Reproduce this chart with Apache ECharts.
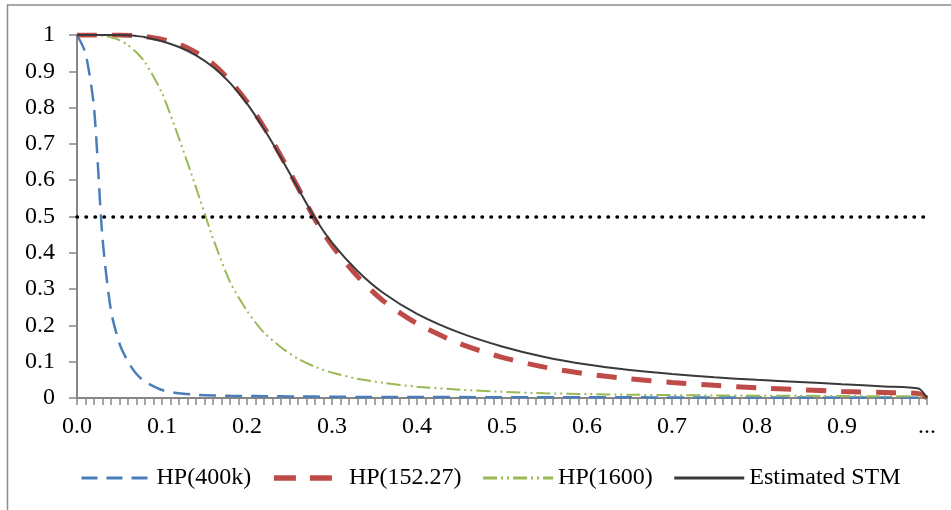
<!DOCTYPE html>
<html>
<head>
<meta charset="utf-8">
<script src="https://cdn.jsdelivr.net/npm/echarts@6/dist/echarts.min.js"></script>
<style>
html, body { margin: 0; padding: 0; background: #fff; }
#chart { width: 951px; height: 510px; }
</style>
</head>
<body>
<div id="chart"></div>
<script>
const xs = [0, 0.01, 0.02, 0.03, 0.04, 0.05, 0.06, 0.07, 0.08, 0.1, 0.12, 0.14, 0.16, 0.18, 0.2, 0.22, 0.24, 0.26, 0.28, 0.3, 0.33, 0.36, 0.4, 0.45, 0.5, 0.55, 0.6, 0.65, 0.7, 0.75, 0.8, 0.85, 0.9, 0.95, 0.99, 1];

const hp400k = [1, 0.95, 0.8, 0.44, 0.24, 0.15, 0.1, 0.066, 0.045, 0.022, 0.013, 0.009, 0.007, 0.006, 0.0055, 0.005, 0.0045, 0.004, 0.0038, 0.0035, 0.003, 0.003, 0.0028, 0.0025, 0.0022, 0.002, 0.002, 0.0018, 0.0016, 0.0015, 0.0014, 0.0013, 0.0012, 0.0011, 0.001, 0];
const hp152 = [1, 1, 1, 1, 1, 1, 0.999, 0.998, 0.996, 0.988, 0.975, 0.952, 0.92, 0.874, 0.816, 0.746, 0.666, 0.58, 0.492, 0.42, 0.335, 0.268, 0.205, 0.15, 0.112, 0.085, 0.066, 0.053, 0.043, 0.035, 0.028, 0.023, 0.018, 0.015, 0.012, 0];
const hp1600 = [1, 1, 1, 0.998, 0.994, 0.986, 0.972, 0.952, 0.925, 0.84, 0.715, 0.58, 0.44, 0.32, 0.24, 0.18, 0.14, 0.108, 0.086, 0.07, 0.053, 0.042, 0.031, 0.023, 0.017, 0.013, 0.011, 0.009, 0.008, 0.007, 0.0065, 0.006, 0.0055, 0.005, 0.005, 0];
const stm = [1, 1, 1, 1, 1, 1, 0.999, 0.997, 0.994, 0.983, 0.967, 0.944, 0.912, 0.868, 0.811, 0.741, 0.662, 0.578, 0.496, 0.428, 0.35, 0.29, 0.232, 0.18, 0.142, 0.113, 0.092, 0.077, 0.066, 0.057, 0.05, 0.044, 0.038, 0.032, 0.026, 0];

const threshold = 0.5;

const font = "'Liberation Serif', 'Times New Roman', serif";
const axisGrey = "#868686";

function pairs(vals) {
	return xs.map((x, i) => [x, vals[i]]);
}

const chart = echarts.init(document.getElementById("chart"));
chart.setOption({
	animation: false,
	graphic: [
		{
			type: "rect",
			shape: {x: 7.5, y: 5, width: 1000, height: 600},
			style: {fill: "none", stroke: "#8c8c8c", lineWidth: 1.5},
			silent: true
		}
	],
	grid: {left: 77, right: 24, top: 35, bottom: 112},
	legend: {
		left: 80,
		top: 466,
		padding: 0,
		itemWidth: 70,
		itemHeight: 14,
		itemGap: 20,
		itemStyle: {opacity: 0},
		textStyle: {fontFamily: font, fontSize: 24, color: "#000"},
		data: [
			{name: "HP(400k)", lineStyle: {width: 3, type: [16, 9]}},
			{name: "HP(152.27)", lineStyle: {width: 5.5, type: [22, 14]}},
			{name: "HP(1600)", lineStyle: {width: 3}},
			{name: "Estimated STM", lineStyle: {width: 3}}
		]
	},
	xAxis: {
		type: "value",
		min: 0,
		max: 1,
		interval: 0.1,
		axisLine: {lineStyle: {color: axisGrey, width: 2}},
		axisTick: {show: true, length: 7, lineStyle: {color: axisGrey, width: 1.5}},
		minorTick: {show: true, splitNumber: 10, length: 7, lineStyle: {color: axisGrey, width: 1.5}},
		splitLine: {show: false},
		axisLabel: {
			margin: 17,
			fontFamily: font,
			fontSize: 24,
			color: "#000",
			formatter: function (v) {
				return v >= 1 ? "..." : v.toFixed(1);
			}
		}
	},
	yAxis: {
		type: "value",
		min: 0,
		max: 1,
		interval: 0.1,
		axisLine: {show: true, lineStyle: {color: axisGrey, width: 2}},
		axisTick: {show: true, length: 8, lineStyle: {color: axisGrey, width: 1.5}},
		splitLine: {show: false},
		axisLabel: {margin: 22, fontFamily: font, fontSize: 24, color: "#000"}
	},
	series: [
		{
			name: "HP(400k)",
			type: "line",
			symbol: "none",
			smooth: 0.25,
			data: pairs(hp400k),
			lineStyle: {color: "#4a7ebb", width: 2.5, type: [17, 9]},
			itemStyle: {color: "#4a7ebb"}
		},
		{
			name: "HP(152.27)",
			type: "line",
			symbol: "none",
			smooth: 0.25,
			data: pairs(hp152),
			lineStyle: {color: "#be4b48", width: 5, type: [20, 15]},
			itemStyle: {color: "#be4b48"}
		},
		{
			name: "HP(1600)",
			type: "line",
			symbol: "none",
			smooth: 0.25,
			data: pairs(hp1600),
			lineStyle: {color: "#98b954", width: 2, type: [14, 4, 2, 4, 2, 4]},
			itemStyle: {color: "#98b954"}
		},
		{
			name: "Estimated STM",
			type: "line",
			symbol: "none",
			smooth: 0.25,
			data: pairs(stm),
			lineStyle: {color: "#3a3a3a", width: 2},
			itemStyle: {color: "#3a3a3a"},
			markLine: {
				silent: true,
				symbol: ["none", "none"],
				label: {show: false},
				lineStyle: {color: "#000", width: 3.5, type: [0.5, 8.5], cap: "round"},
				data: [{yAxis: threshold}]
			}
		}
	]
});
</script>
</body>
</html>
